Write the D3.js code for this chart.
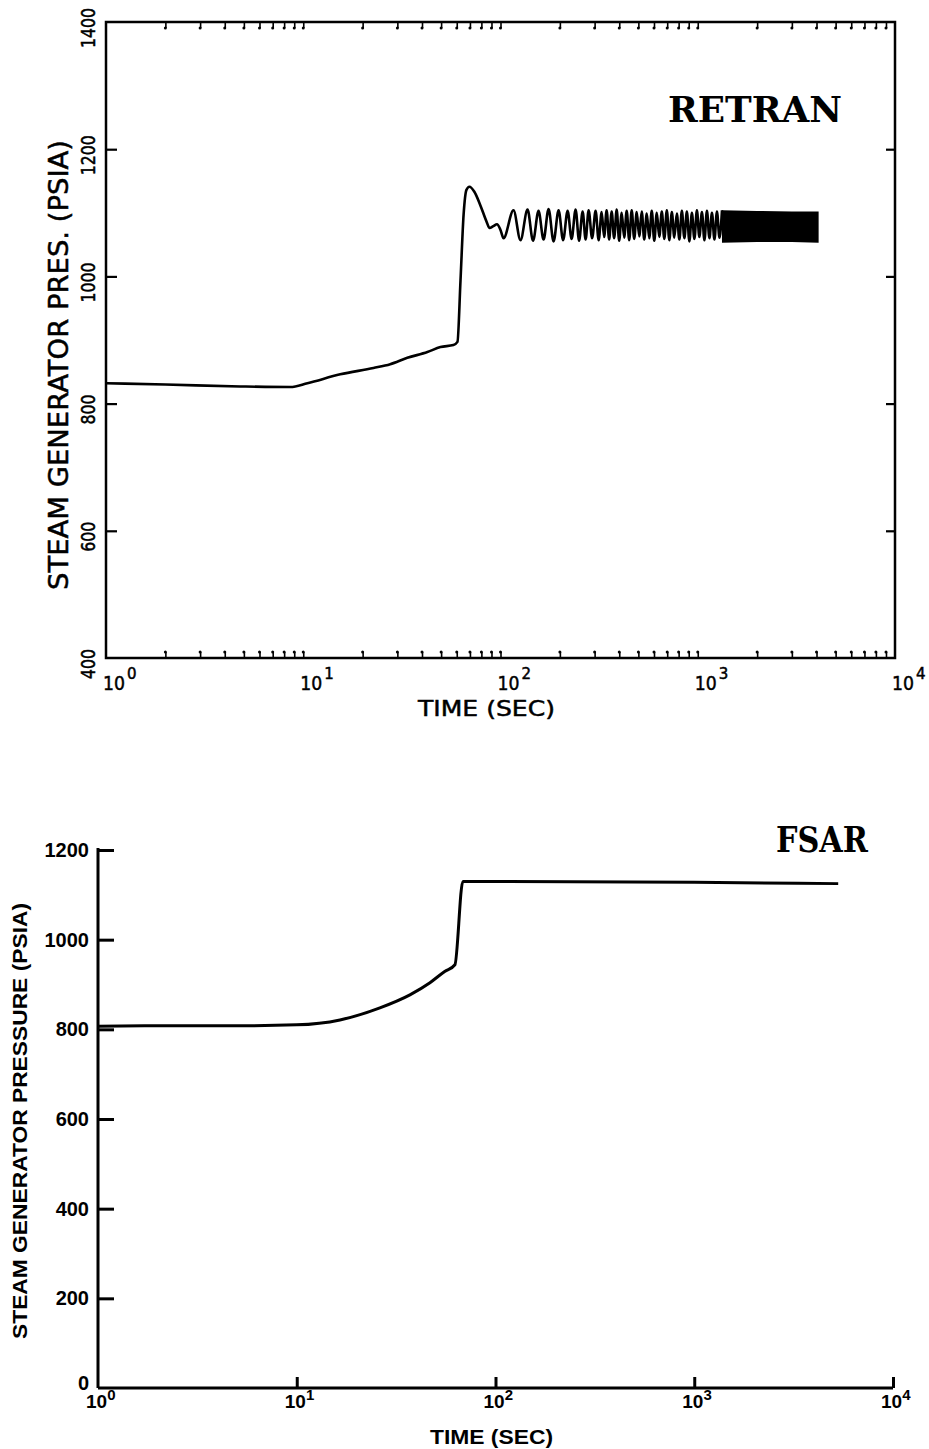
<!DOCTYPE html>
<html>
<head>
<meta charset="utf-8">
<script src="https://cdn.jsdelivr.net/npm/d3@7"></script>
<style>
body { margin: 0; background: #fff; }
</style>
</head>
<body>
<div id="chart"></div>
<script>
// RETRAN curve up to the first trough
const retranTime = [1, 2, 4.8, 8.6, 10.5, 15.4, 22.7, 27.6, 33.7, 42.6, 49.6, 57.7, 60.5, 62.7, 65, 67.2, 69.6, 73.7, 79, 85, 88, 92, 96, 100, 103.6]
const retranPres = [832, 830, 827, 826, 832, 846, 856, 862, 872, 881, 889, 892, 897, 994, 1097, 1136, 1141, 1133, 1112, 1086, 1076, 1079, 1082, 1073, 1060]

// RETRAN oscillation, peak / trough in turn
const oscTime = [116.4, 126.3, 137.1, 146.2, 155.9, 165.3, 175.3, 185.8, 197.0, 207.7, 218.9, 229.4, 240.3, 250.3, 260.8, 270.1, 279.7, 291.4, 303.5, 314.5, 325.7, 335.3, 345.2,
    355.5, 366.0, 376.9, 388.1, 399.6, 411.5, 423.7, 436.3, 449.2, 462.6, 476.3, 490.5, 505.0, 520.0, 535.5, 551.4, 567.8, 584.6, 602.0, 619.9, 638.3, 657.2, 676.8, 696.9,
    717.6, 738.9, 760.8, 783.4, 806.7, 830.6, 855.3, 880.7, 906.8, 933.8, 961.5, 990.0, 1019, 1050, 1081, 1113, 1146, 1180, 1215, 1251, 1289, 1327]
const oscPres = [1104, 1057, 1105, 1056, 1103, 1058, 1106, 1055, 1104, 1057, 1103, 1059, 1105, 1056, 1102, 1058, 1104, 1060, 1103, 1057, 1101, 1062, 1104, 1058,
    1102, 1060, 1105, 1056, 1100, 1061, 1103, 1057, 1104, 1059, 1101, 1063, 1102, 1058, 1099, 1060, 1103, 1056, 1100, 1062, 1102, 1059, 1104, 1057,
    1101, 1061, 1099, 1058, 1103, 1060, 1102, 1055, 1100, 1059, 1104, 1062, 1101, 1057, 1103, 1060, 1100, 1058, 1102, 1061, 1104]

// solid band where the oscillation is too dense to separate
const bandTime = [1327, 2000, 3000, 4100]
const bandHigh = [1104, 1103, 1102, 1102]
const bandLow = [1053, 1054, 1054, 1053]

// FSAR curve
const fsarTime = [1, 2, 5, 10, 16.5, 26.2, 37.1, 46.8, 55.5, 62.5, 68.5, 100, 1000, 5300]
const fsarPres = [807, 808, 808, 810, 821, 848, 877, 904, 929, 944, 1130, 1130, 1128, 1125]

// ticks and labels
const decades = [1, 10, 100, 1000, 10000]
const decadeExp = ["0", "1", "2", "3", "4"]
const minorTicks = [2, 3, 4, 5, 6, 7, 8, 9, 10, 20, 30, 40, 50, 60, 70, 80, 90, 100,
    200, 300, 400, 500, 600, 700, 800, 900, 1000, 2000, 3000, 4000, 5000, 6000, 7000, 8000, 9000]
const topYTicks = [600, 800, 1000, 1200]
const topYLabels = [400, 600, 800, 1000, 1200, 1400]
const botYTicks = [200, 400, 600, 800, 1000, 1200]
const botYLabels = [0, 200, 400, 600, 800, 1000, 1200]

const width = 929
const height = 1449

const svg = d3.select("#chart")
    .append("svg")
    .attr("width", width)
    .attr("height", height)

const plotFont = "'DejaVu Sans', sans-serif"
const boldFont = "'Liberation Sans', Arial, sans-serif"
const titleFont = "'DejaVu Serif', 'Liberation Serif', serif"

// ---------- top chart (RETRAN) ----------
const xTop = d3.scaleLog().domain([1, 1e4]).range([106, 895])
const yTop = d3.scaleLinear().domain([400, 1400]).range([658, 22])

const gTop = svg.append("g")

gTop.append("rect")
    .attr("x", xTop(1)).attr("y", yTop(1400))
    .attr("width", xTop(1e4) - xTop(1))
    .attr("height", yTop(400) - yTop(1400))
    .attr("fill", "none")
    .attr("stroke", "#000")
    .attr("stroke-width", 2.5)

// minor ticks on bottom and top edges, pointing inward
gTop.append("g")
    .attr("transform", `translate(0,${yTop(400)})`)
    .call(d3.axisTop(xTop).tickValues(minorTicks).tickSize(6).tickFormat(""))
    .call(g => g.select(".domain").remove())
gTop.append("g")
    .attr("transform", `translate(0,${yTop(1400)})`)
    .call(d3.axisBottom(xTop).tickValues(minorTicks).tickSize(6).tickFormat(""))
    .call(g => g.select(".domain").remove())
gTop.selectAll(".tick line").attr("stroke-width", 1.6)

gTop.append("g").selectAll("circle")
    .data(minorTicks)
    .join("circle")
    .attr("cx", d => xTop(d))
    .attr("cy", yTop(400) - 6)
    .attr("r", 1.5)
gTop.append("g").selectAll("circle")
    .data(minorTicks)
    .join("circle")
    .attr("cx", d => xTop(d))
    .attr("cy", yTop(1400) + 6)
    .attr("r", 1.5)

// y ticks on left and right edges
gTop.append("g")
    .attr("transform", `translate(${xTop(1)},0)`)
    .call(d3.axisLeft(yTop).tickValues(topYTicks).tickSize(-11).tickFormat(""))
    .call(g => g.select(".domain").remove())
    .selectAll("line").attr("stroke-width", 2.2)
gTop.append("g")
    .attr("transform", `translate(${xTop(1e4)},0)`)
    .call(d3.axisRight(yTop).tickValues(topYTicks).tickSize(-9).tickFormat(""))
    .call(g => g.select(".domain").remove())
    .selectAll("line").attr("stroke-width", 2.2)

// rotated y labels
gTop.append("g").selectAll("text")
    .data(topYLabels)
    .join("text")
    .attr("transform", d => `translate(95,${yTop(d) + 6}) rotate(-90)`)
    .attr("text-anchor", "middle")
    .attr("font-family", plotFont)
    .attr("font-size", 19)
    .attr("stroke", "#000")
    .attr("stroke-width", 0.5)
    .attr("textLength", d => String(d).length * 10)
    .attr("lengthAdjust", "spacingAndGlyphs")
    .text(d => d)

// x labels 10^n
const topXLab = gTop.append("g").selectAll("text")
    .data(decades)
    .join("text")
    .attr("x", d => xTop(d) - 3)
    .attr("y", 690)
    .attr("font-family", plotFont)
    .attr("font-size", 20)
    .attr("stroke", "#000")
    .attr("stroke-width", 0.5)
topXLab.append("tspan")
    .attr("textLength", 22)
    .attr("lengthAdjust", "spacingAndGlyphs")
    .text("10")
topXLab.append("tspan")
    .attr("dx", 2)
    .attr("dy", -11)
    .attr("font-size", 15)
    .text((d, i) => decadeExp[i])

gTop.append("text")
    .attr("x", 418)
    .attr("y", 716)
    .attr("font-family", plotFont)
    .attr("font-size", 22)
    .attr("stroke", "#000")
    .attr("stroke-width", 0.5)
    .attr("textLength", 137)
    .attr("lengthAdjust", "spacingAndGlyphs")
    .text("TIME (SEC)")

gTop.append("text")
    .attr("transform", "translate(68,365) rotate(-90)")
    .attr("text-anchor", "middle")
    .attr("font-family", plotFont)
    .attr("font-size", 27)
    .attr("stroke", "#000")
    .attr("stroke-width", 0.5)
    .attr("textLength", 450)
    .attr("lengthAdjust", "spacingAndGlyphs")
    .text("STEAM GENERATOR PRES. (PSIA)")

gTop.append("text")
    .attr("x", 668)
    .attr("y", 122)
    .attr("font-family", titleFont)
    .attr("font-weight", "bold")
    .attr("font-size", 36)
    .attr("textLength", 174)
    .attr("lengthAdjust", "spacingAndGlyphs")
    .text("RETRAN")

// curve
const retranPts = retranTime.map((t, i) => [t, retranPres[i]])
    .concat(oscTime.map((t, i) => [t, oscPres[i]]))
const lineTop = d3.line()
    .x(d => xTop(d[0]))
    .y(d => yTop(d[1]))
    .curve(d3.curveMonotoneX)
gTop.append("path")
    .datum(retranPts)
    .attr("d", lineTop)
    .attr("fill", "none")
    .attr("stroke", "#000")
    .attr("stroke-width", 2.6)
    .attr("stroke-linejoin", "round")

const bandArea = d3.area()
    .x(d => xTop(d[0]))
    .y0(d => yTop(d[1]))
    .y1(d => yTop(d[2]))
gTop.append("path")
    .datum(bandTime.map((t, i) => [t, bandLow[i], bandHigh[i]]))
    .attr("d", bandArea)
    .attr("fill", "#000")

// ---------- bottom chart (FSAR) ----------
const xBot = d3.scaleLog().domain([1, 1e4]).range([98, 893])
const yBot = d3.scaleLinear().domain([0, 1200]).range([1388, 850])

const gBot = svg.append("g")

gBot.append("g")
    .attr("transform", `translate(${xBot(1)},0)`)
    .call(d3.axisLeft(yBot).tickValues(botYTicks).tickSize(-16).tickFormat(""))
    .call(g => g.select(".domain").attr("d", `M0,${yBot(0)}V${yBot(1200) - 2}`))
    .call(g => g.selectAll("path, line").attr("stroke-width", 3))

gBot.append("g")
    .attr("transform", `translate(0,${yBot(0)})`)
    .call(d3.axisBottom(xBot).tickValues(decades.slice(1)).tickSize(-11).tickFormat(""))
    .call(g => g.select(".domain").attr("d", `M${xBot(1)},0H${xBot(1e4)}`))
    .call(g => g.selectAll("path, line").attr("stroke-width", 3))

gBot.append("g").selectAll("text")
    .data(botYLabels)
    .join("text")
    .attr("x", 89)
    .attr("y", d => yBot(d) + (d === 0 ? 2 : 7))
    .attr("text-anchor", "end")
    .attr("font-family", boldFont)
    .attr("font-weight", "bold")
    .attr("font-size", 20)
    .text(d => d)

const botXLab = gBot.append("g").selectAll("text")
    .data(decades)
    .join("text")
    .attr("x", d => xBot(d) - 12)
    .attr("y", 1408)
    .attr("font-family", boldFont)
    .attr("font-weight", "bold")
    .attr("font-size", 19)
botXLab.append("tspan").text("10")
botXLab.append("tspan")
    .attr("dy", -8)
    .attr("font-size", 15)
    .text((d, i) => decadeExp[i])

gBot.append("text")
    .attr("x", 430)
    .attr("y", 1444)
    .attr("font-family", boldFont)
    .attr("font-weight", "bold")
    .attr("font-size", 20)
    .attr("textLength", 123)
    .attr("lengthAdjust", "spacingAndGlyphs")
    .text("TIME (SEC)")

gBot.append("text")
    .attr("transform", "translate(27,1121) rotate(-90)")
    .attr("text-anchor", "middle")
    .attr("font-family", boldFont)
    .attr("font-weight", "bold")
    .attr("font-size", 20)
    .attr("textLength", 436)
    .attr("lengthAdjust", "spacingAndGlyphs")
    .text("STEAM GENERATOR PRESSURE (PSIA)")

gBot.append("text")
    .attr("x", 776)
    .attr("y", 852)
    .attr("font-family", titleFont)
    .attr("font-weight", "bold")
    .attr("font-size", 36)
    .attr("textLength", 92)
    .attr("lengthAdjust", "spacingAndGlyphs")
    .text("FSAR")

const lineBot = d3.line()
    .x(d => xBot(d[0]))
    .y(d => yBot(d[1]))
    .curve(d3.curveMonotoneX)
gBot.append("path")
    .datum(fsarTime.map((t, i) => [t, fsarPres[i]]))
    .attr("d", lineBot)
    .attr("fill", "none")
    .attr("stroke", "#000")
    .attr("stroke-width", 3)
    .attr("stroke-linejoin", "round")
</script>
</body>
</html>
